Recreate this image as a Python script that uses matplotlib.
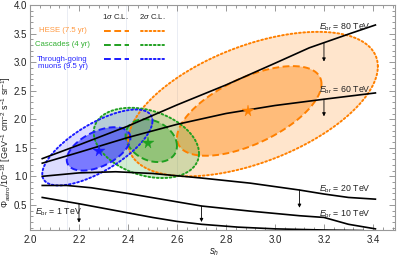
import numpy as np
import matplotlib
matplotlib.use("Agg")
import matplotlib.pyplot as plt
from matplotlib.ticker import MultipleLocator

plt.rcParams['font.family'] = ['Liberation Sans', 'DejaVu Sans']
plt.rcParams['mathtext.fontset'] = 'custom'
plt.rcParams['mathtext.rm'] = 'Liberation Sans'
plt.rcParams['mathtext.it'] = 'Liberation Sans:italic'
plt.rcParams['mathtext.bf'] = 'Liberation Sans:bold'

# ---------------- data ----------------
# E_break curves (s_h, Phi)
e80_x = [2.05, 2.20, 2.40, 2.60, 2.80, 3.00, 3.14, 3.30, 3.41]
e80_y = [1.31, 1.55, 1.88, 2.25, 2.60, 2.98, 3.25, 3.49, 3.65]
e60_x = [2.05, 2.20, 2.40, 2.60, 2.80, 3.00, 3.20, 3.41]
e60_y = [1.23, 1.42, 1.68, 1.91, 2.10, 2.24, 2.35, 2.46]
e20_x = [2.05, 2.20, 2.35, 2.50, 2.70, 2.90, 3.10, 3.20, 3.30, 3.41]
e20_y = [1.00, 1.06, 1.08, 1.05, 0.97, 0.88, 0.76, 0.69, 0.63, 0.60]
e10_x = [2.05, 2.15, 2.25, 2.40, 2.55, 2.70, 2.90, 3.10, 3.20, 3.25, 3.30, 3.41]
e10_y = [0.84, 0.84, 0.80, 0.70, 0.59, 0.48, 0.39, 0.31, 0.28, 0.22, 0.16, 0.08]
e1_x = [2.05, 2.20, 2.35, 2.50, 2.60, 2.70, 2.85, 3.00, 3.20, 3.36]
e1_y = [0.63, 0.52, 0.40, 0.28, 0.21, 0.16, 0.11, 0.08, 0.06, 0.05]

curve_labels = [r'$E_{\rm br}$ = 80 TeV', r'$E_{\rm br}$ = 60 TeV',
                r'$E_{\rm br}$ = 20 TeV', r'$E_{\rm br}$ = 10 TeV',
                r'$E_{\rm br}$ = 1 TeV']
label_x = [3.39, 3.39, 3.39, 3.39, 2.02]
label_y = [3.57, 2.47, 0.74, 0.30, 0.34]
label_ha = ['right', 'right', 'right', 'right', 'left']

# downward arrows (x, y_start, y_end)
arrow_x = [3.20, 3.20, 3.10, 2.70, 2.20]
arrow_y0 = [3.34, 2.35, 0.76, 0.48, 0.52]
arrow_y1 = [3.01, 2.05, 0.45, 0.20, 0.19]

# confidence regions: centre, half-extent, correlation
samples = ['HESE (7.5 yr)', 'Cascades (4 yr)', 'Through-going\nmuons (9.5 yr)']
colors = ['#ff8000', '#20a020', '#1a1aff']
text_colors = ['#ff9940', '#33b033', '#2828ff']
c1_cx = [2.895, 2.495, 2.280]
c1_cy = [2.145, 1.625, 1.480]
c1_sx = [0.295, 0.105, 0.130]
c1_sy = [0.785, 0.375, 0.380]
c1_rho = [0.60, -0.25, 0.50]
c2_cx = [2.910, 2.475, 2.275]
c2_cy = [2.265, 1.585, 1.505]
c2_sx = [0.510, 0.215, 0.225]
c2_sy = [1.265, 0.615, 0.665]
c2_rho = [0.52, -0.30, 0.70]
best_x = [2.89, 2.48, 2.28]
best_y = [2.145, 1.58, 1.45]
fill1_alpha = [0.40, 0.35, 0.50]
fill2_alpha = [0.20, 0.20, 0.15]

grid_x = [2.15, 2.39, 2.60]

x_ticks = [2.0, 2.2, 2.4, 2.6, 2.8, 3.0, 3.2, 3.4]
y_ticks = [0.5, 1.0, 1.5, 2.0, 2.5, 3.0, 3.5, 4.0]


def ellipse(cx, cy, sx, sy, rho, n=240):
    t = np.linspace(0, 2 * np.pi, n)
    x = cx + sx * np.cos(t)
    y = cy + sy * (rho * np.cos(t) + np.sqrt(1 - rho ** 2) * np.sin(t))
    return x, y


# ---------------- figure ----------------
W, H = 399, 260
fig = plt.figure(figsize=(W / 100, H / 100), dpi=100)
ax = fig.add_axes([30 / W, 1 - 230 / H, 365 / W, 225 / H])
ax.set_xlim(2.0, 3.49)
ax.set_ylim(0.06, 4.0)

for gx in grid_x:
    ax.axvline(gx, color='#e6eaf2', lw=0.6, zorder=0)

# fills
for i in range(3):
    x2, y2 = ellipse(c2_cx[i], c2_cy[i], c2_sx[i], c2_sy[i], c2_rho[i])
    ax.fill(x2, y2, color=colors[i], alpha=fill2_alpha[i], lw=0, zorder=1)
    x1, y1 = ellipse(c1_cx[i], c1_cy[i], c1_sx[i], c1_sy[i], c1_rho[i])
    ax.fill(x1, y1, color=colors[i], alpha=fill1_alpha[i], lw=0, zorder=1)

# contour lines
for i in range(3):
    x2, y2 = ellipse(c2_cx[i], c2_cy[i], c2_sx[i], c2_sy[i], c2_rho[i])
    ax.plot(x2, y2, color=colors[i], lw=1.4, ls=(0, (0.9, 1.3)),
            dash_capstyle='round', zorder=2)
    x1, y1 = ellipse(c1_cx[i], c1_cy[i], c1_sx[i], c1_sy[i], c1_rho[i])
    ax.plot(x1, y1, color=colors[i], lw=1.4, ls=(0, (3.5, 1.8)), zorder=2)

# E_br curves
for cx_, cy_ in [(e80_x, e80_y), (e60_x, e60_y), (e20_x, e20_y),
                 (e10_x, e10_y), (e1_x, e1_y)]:
    ax.plot(cx_, cy_, color='black', lw=1.2, zorder=3)

for xa, ya0, ya1 in zip(arrow_x, arrow_y0, arrow_y1):
    ax.annotate('', xy=(xa, ya1), xytext=(xa, ya0),
                arrowprops=dict(arrowstyle='-|>', color='black', lw=0.6,
                                mutation_scale=5, shrinkA=0, shrinkB=0),
                zorder=3)

for lab, lx, ly, ha in zip(curve_labels, label_x, label_y, label_ha):
    ax.text(lx, ly, lab, fontsize=6.3, ha=ha, va='baseline', color='#222222',
            zorder=4)

# best fits
for i in range(3):
    ax.plot(best_x[i], best_y[i], marker='*', color=colors[i], ms=8.5,
            mec=colors[i], mew=0.3, zorder=4)


# legend (manual), positions in pixels of the figure
def fx(px):
    return (px - 30) / 365.0


def fy(py):
    return (230 - py) / 225.0


ax.text(fx(115.5), fy(16.7), r'1$\sigma$ C.L.', transform=ax.transAxes,
        fontsize=5.6, ha='center', va='center', color='#222222')
ax.text(fx(152.5), fy(16.7), r'2$\sigma$ C.L.', transform=ax.transAxes,
        fontsize=5.6, ha='center', va='center', color='#222222')
leg_text_y = [30.5, 45.0, 63.0]
leg_line_y = [30.7, 45.0, 58.7]
for i in range(3):
    ax.text(fx(62.5), fy(leg_text_y[i]), samples[i], transform=ax.transAxes,
            fontsize=5.6, ha='center', va='center', color=text_colors[i],
            linespacing=1.05)
    ax.plot([fx(104), fx(129)], [fy(leg_line_y[i])] * 2,
            transform=ax.transAxes, color=colors[i], lw=1.4,
            ls=(0, (3.5, 1.8)))
    ax.plot([fx(141), fx(164)], [fy(leg_line_y[i])] * 2,
            transform=ax.transAxes, color=colors[i], lw=1.4,
            ls=(0, (0.9, 1.3)), dash_capstyle='round')

# axes styling
ax.set_xticks(x_ticks)
ax.set_yticks(y_ticks)
ax.set_xticklabels([f'{v:.1f}' for v in x_ticks])
ax.set_yticklabels([f'{v:.1f}' for v in y_ticks])
ax.xaxis.set_minor_locator(MultipleLocator(0.04))
ax.yaxis.set_minor_locator(MultipleLocator(0.1))
ax.tick_params(which='both', direction='in', top=True, right=True,
               color='#888888', width=0.6, labelsize=7, labelcolor='#222222')
ax.tick_params(which='major', length=4)
ax.tick_params(which='minor', length=2)
ax.tick_params(axis='x', pad=3.5)
ax.tick_params(axis='y', pad=2)
for sp in ax.spines.values():
    sp.set_color('#999999')
    sp.set_linewidth(0.8)

fig.text(214 / W, 1 - 252 / H, r'$s_h$', fontsize=7, color='#222222',
         ha='center', va='center')
fig.text(6.5 / W, 1 - 142 / H,
         r'$\Phi_{\rm astro}/10^{-18}$ [GeV$^{-1}$ cm$^{-2}$ s$^{-1}$ sr$^{-1}$]',
         fontsize=6.4, color='#222222', ha='center', va='center', rotation=90)

fig.savefig('out.png', dpi=100)
